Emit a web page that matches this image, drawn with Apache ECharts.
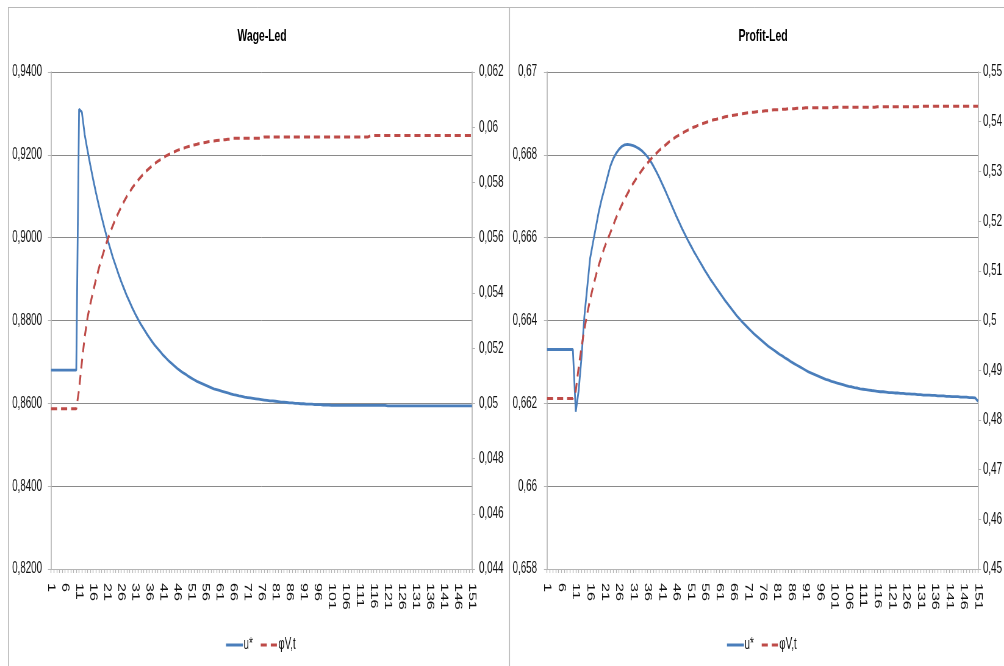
<!DOCTYPE html>
<html><head><meta charset="utf-8">
<script src="https://cdn.jsdelivr.net/npm/echarts@6/dist/echarts.min.js"></script>
<style>
html,body{margin:0;padding:0;background:#fff;overflow:hidden;width:1004px;height:666px}
#chart{width:1646px;height:666px;transform:scaleX(0.61);transform-origin:0 0}
</style>
</head><body><div id="chart"></div>
<script>
// ---- data ----
const periods = Array.from({length: 151}, (_, i) => String(i + 1));
const seriesNames = ['u*', 'φV,t'];
const panelTitles = ['Wage-Led', 'Profit-Led'];

const wageU = [
0.868,0.868,0.868,0.868,0.868,0.868,0.868,0.868,0.868,0.868,
0.931,0.9303,0.9249,0.9211,0.9175,0.9141,0.9109,0.9079,0.9051,0.9024,
0.8999,0.8976,0.8953,0.8933,0.8913,0.8894,0.8877,0.886,0.8845,0.883,
0.8816,0.8803,0.8791,0.878,0.8769,0.8759,0.8749,0.874,0.8732,0.8724,
0.8716,0.8709,0.8702,0.8696,0.869,0.8684,0.8679,0.8674,0.867,0.8665,
0.8661,0.8657,0.8653,0.865,0.8647,0.8644,0.8641,0.8638,0.8635,0.8633,
0.8631,0.8629,0.8627,0.8625,0.8623,0.8621,0.862,0.8618,0.8617,0.8615,
0.8614,0.8613,0.8612,0.8611,0.861,0.8609,0.8608,0.8607,0.8606,0.8606,
0.8605,0.8604,0.8603,0.8603,0.8602,0.8601,0.8601,0.86,0.86,0.8599,
0.8599,0.8598,0.8598,0.8598,0.8597,0.8597,0.8597,0.8596,0.8596,0.8596,
0.8595,0.8595,0.8595,0.8595,0.8595,0.8595,0.8595,0.8595,0.8595,0.8595,
0.8595,0.8595,0.8595,0.8595,0.8595,0.8595,0.8595,0.8595,0.8595,0.8595,
0.8594,0.8594,0.8594,0.8594,0.8594,0.8594,0.8594,0.8594,0.8594,0.8594,
0.8594,0.8594,0.8594,0.8594,0.8594,0.8594,0.8594,0.8594,0.8594,0.8594,
0.8594,0.8594,0.8594,0.8594,0.8594,0.8594,0.8594,0.8594,0.8594,0.8594,
0.8594
];
const wagePhi = [
0.0498,0.0498,0.0498,0.0498,0.0498,0.0498,0.0498,0.0498,0.0498,0.0498,
0.0505,0.0515,0.0524,0.0531,0.0536,0.05405,0.05448,0.05487,0.05523,0.05557,
0.05588,0.05617,0.05643,0.05668,0.0569,0.05711,0.05731,0.05749,0.05765,0.05781,
0.05795,0.05808,0.0582,0.05831,0.05842,0.05851,0.0586,0.05869,0.05876,0.05883,
0.0589,0.05896,0.05901,0.05906,0.05911,0.05916,0.0592,0.05923,0.05927,0.0593,
0.05933,0.05936,0.05938,0.05941,0.05943,0.05945,0.05947,0.05949,0.0595,0.05952,
0.05953,0.05954,0.05955,0.05956,0.05957,0.0596,0.0596,0.0596,0.0596,0.0596,
0.0596,0.0596,0.0596,0.0596,0.0596,0.0596,0.05965,0.05965,0.05965,0.05965,
0.05965,0.05965,0.05965,0.05965,0.05965,0.05965,0.05965,0.05965,0.05965,0.05965,
0.05965,0.05965,0.05965,0.05965,0.05965,0.05965,0.05965,0.05965,0.05965,0.05965,
0.05965,0.05965,0.05965,0.05965,0.05965,0.05965,0.05965,0.05965,0.05965,0.05965,
0.05965,0.05965,0.05965,0.05965,0.0597,0.0597,0.0597,0.0597,0.0597,0.0597,
0.0597,0.0597,0.0597,0.0597,0.0597,0.0597,0.0597,0.0597,0.0597,0.0597,
0.0597,0.0597,0.0597,0.0597,0.0597,0.0597,0.0597,0.0597,0.0597,0.0597,
0.0597,0.0597,0.0597,0.0597,0.0597,0.0597,0.0597,0.0597,0.0597,0.0597,
0.0597
];
const profitU = [
0.6633,0.6633,0.6633,0.6633,0.6633,0.6633,0.6633,0.6633,0.6633,0.6633,
0.6618,0.6623,0.6631,0.6641,0.6648,0.6655,0.66588,0.66625,0.66662,0.66692,
0.66718,0.66745,0.66772,0.6679,0.66803,0.66813,0.6682,0.66824,0.66825,0.66824,
0.66822,0.66819,0.66815,0.6681,0.66803,0.66795,0.66785,0.66773,0.6676,0.66746,
0.66731,0.66716,0.667,0.66684,0.66668,0.66652,0.66637,0.66622,0.66608,0.66594,
0.66581,0.66568,0.66556,0.66544,0.66532,0.6652,0.66509,0.66498,0.66488,0.66478,
0.66468,0.66458,0.66448,0.66439,0.6643,0.66421,0.66412,0.66404,0.66396,0.66389,
0.66382,0.66375,0.66368,0.66362,0.66356,0.6635,0.66344,0.66338,0.66333,0.66328,
0.66323,0.66318,0.66314,0.66309,0.66305,0.663,0.66296,0.66292,0.66288,0.66284,
0.6628,0.66276,0.66273,0.6627,0.66267,0.66264,0.66261,0.66258,0.66256,0.66253,
0.66251,0.66249,0.66247,0.66245,0.66243,0.66241,0.6624,0.66238,0.66237,0.66235,
0.66234,0.66233,0.66232,0.66231,0.6623,0.66229,0.66228,0.66228,0.66227,0.66226,
0.66226,0.66225,0.66225,0.66224,0.66224,0.66223,0.66223,0.66222,0.66222,0.66221,
0.66221,0.6622,0.6622,0.6622,0.66219,0.66219,0.66218,0.66218,0.66218,0.66217,
0.66217,0.66216,0.66216,0.66216,0.66215,0.66215,0.66215,0.66214,0.66214,0.66213,
0.66205
];
const profitPhi = [
0.4843,0.4843,0.4843,0.4843,0.4843,0.4843,0.4843,0.4843,0.4843,0.4843,
0.4858,0.4905,0.4946,0.4982,0.5014,0.5042,0.5067,0.509,0.5111,0.513,
0.5147,0.5162,0.5176,0.5191,0.5206,0.5219,0.5232,0.5244,0.5255,0.5266,
0.5276,0.5285,0.5294,0.5302,0.531,0.5317,0.5324,0.533,0.5336,0.5342,
0.5347,0.5352,0.5357,0.5362,0.5366,0.537,0.5373,0.5377,0.538,0.5383,
0.5386,0.5389,0.5391,0.5394,0.5396,0.5398,0.54,0.5402,0.5404,0.5405,
0.5407,0.5408,0.541,0.5411,0.5412,0.5413,0.5414,0.5415,0.5416,0.5417,
0.5418,0.5419,0.5419,0.542,0.5421,0.5421,0.5422,0.5422,0.5423,0.5424,
0.5424,0.5424,0.5425,0.5425,0.5426,0.5426,0.5426,0.5427,0.5427,0.5427,
0.5428,0.5428,0.5428,0.5428,0.5428,0.5428,0.5428,0.5428,0.5428,0.5428,
0.5429,0.5429,0.5429,0.5429,0.5429,0.5429,0.5429,0.5429,0.5429,0.5429,
0.5429,0.5429,0.5429,0.5429,0.5429,0.543,0.543,0.543,0.543,0.543,
0.543,0.543,0.543,0.543,0.543,0.543,0.543,0.543,0.543,0.543,
0.5431,0.5431,0.5431,0.5431,0.5431,0.5431,0.5431,0.5431,0.5431,0.5431,
0.5431,0.5431,0.5431,0.5431,0.5431,0.5431,0.5431,0.5431,0.5431,0.5431,
0.5431
];

// ---- layout (the chart is drawn wide, then squeezed horizontally like the reference) ----
const S = 0.61, W = 1646;
const hx = x => x / S;               // screen x -> unscaled x
const FONT = '"Liberation Sans","Arial",sans-serif';
const BLUE = '#4A7EBB', RED = '#BE4B48';
const AXC = '#b5b5b5', GRIDC = '#8a8a8a', TXT = '#111111', BORDER = '#b8b8b8';
const fmt = dec => v => String(+v.toFixed(dec)).replace('.', ',');
const fmtFixed = dec => v => v.toFixed(dec).replace('.', ',');

function xAxis(gi) {
  return {type: 'category', gridIndex: gi, data: periods, boundaryGap: false,
    axisLine: {show: true, lineStyle: {color: AXC, width: 1}},
    axisTick: {show: true, interval: 0, length: 4, lineStyle: {color: AXC, width: 1.3}},
    axisLabel: {interval: 4, rotate: -90, margin: 14, color: TXT, fontFamily: FONT, fontSize: 16},
    splitLine: {show: false}};
}
function yAxis(gi, pos, min, max, step, f, grid, margin) {
  return {type: 'value', gridIndex: gi, position: pos, min: min, max: max, interval: step,
    axisLine: {show: true, lineStyle: {color: AXC, width: 1.64}},
    axisTick: {show: true, length: 5, lineStyle: {color: AXC, width: 1}},
    axisLabel: {formatter: f, margin: hx(margin), color: TXT, fontFamily: FONT, fontSize: 16},
    splitLine: {show: grid, lineStyle: {color: GRIDC, width: 1}}};
}
function lineSeries(name, xi, yi, data, dashed) {
  const color = dashed ? RED : BLUE;
  return {name: name, type: 'line', xAxisIndex: xi, yAxisIndex: yi, data: data,
    symbol: 'none', showSymbol: false, smooth: false, animation: false,
    itemStyle: {color: color},
    lineStyle: dashed ? {color: color, width: 3, type: [10, 6.5]} : {color: color, width: 2.8}};
}
function legendAt(x) {
  return {left: hx(x), top: 632, itemWidth: hx(17), itemHeight: 12, itemGap: hx(7), data: seriesNames,
    itemStyle: {opacity: 0},
    lineStyle: {width: 3},
    textStyle: {fontFamily: FONT, fontSize: 16, color: TXT, padding: [0, 0, 0, -4]}};
}

const chart = echarts.init(document.getElementById('chart'), null, {renderer: 'canvas', width: W, height: 666});
chart.setOption({
  backgroundColor: '#ffffff',
  animation: false,
  textStyle: {fontFamily: FONT, color: TXT},
  title: [
    {text: panelTitles[0], left: hx(259), top: 23, textAlign: 'center',
     textStyle: {fontFamily: FONT, fontWeight: 'bold', fontSize: 17, color: '#000'}},
    {text: panelTitles[1], left: hx(760), top: 23, textAlign: 'center',
     textStyle: {fontFamily: FONT, fontWeight: 'bold', fontSize: 17, color: '#000'}}
  ],
  legend: [legendAt(222), legendAt(723)],
  grid: [
    {left: hx(51), right: W - hx(472), top: 72, bottom: 666 - 569, outerBoundsMode: 'none', containLabel: false},
    {left: hx(547), right: W - hx(978), top: 72, bottom: 666 - 569, outerBoundsMode: 'none', containLabel: false}
  ],
  xAxis: [xAxis(0), xAxis(1)],
  yAxis: [
    yAxis(0, 'left', 0.82, 0.94, 0.02, fmtFixed(4), true, 9),
    yAxis(0, 'right', 0.044, 0.062, 0.002, fmt(3), false, 7),
    yAxis(1, 'left', 0.658, 0.67, 0.002, fmt(3), true, 10),
    yAxis(1, 'right', 0.45, 0.55, 0.01, fmt(2), false, 5)
  ],
  series: [
    lineSeries(seriesNames[0], 0, 0, wageU, false),
    lineSeries(seriesNames[1], 0, 1, wagePhi, true),
    lineSeries(seriesNames[0], 1, 2, profitU, false),
    lineSeries(seriesNames[1], 1, 3, profitPhi, true)
  ],
  graphic: [
    {type: 'line', silent: true, z: -10, shape: {x1: hx(8), y1: 7.5, x2: W, y2: 7.5},
     style: {stroke: BORDER, lineWidth: 1}},
    {type: 'line', silent: true, z: -10, shape: {x1: hx(8.5), y1: 7, x2: hx(8.5), y2: 666},
     style: {stroke: BORDER, lineWidth: 1.64}},
    {type: 'line', silent: true, z: -10, shape: {x1: hx(509.5), y1: 7, x2: hx(509.5), y2: 666},
     style: {stroke: BORDER, lineWidth: 1.64}}
  ]
});
</script>
</body></html>
